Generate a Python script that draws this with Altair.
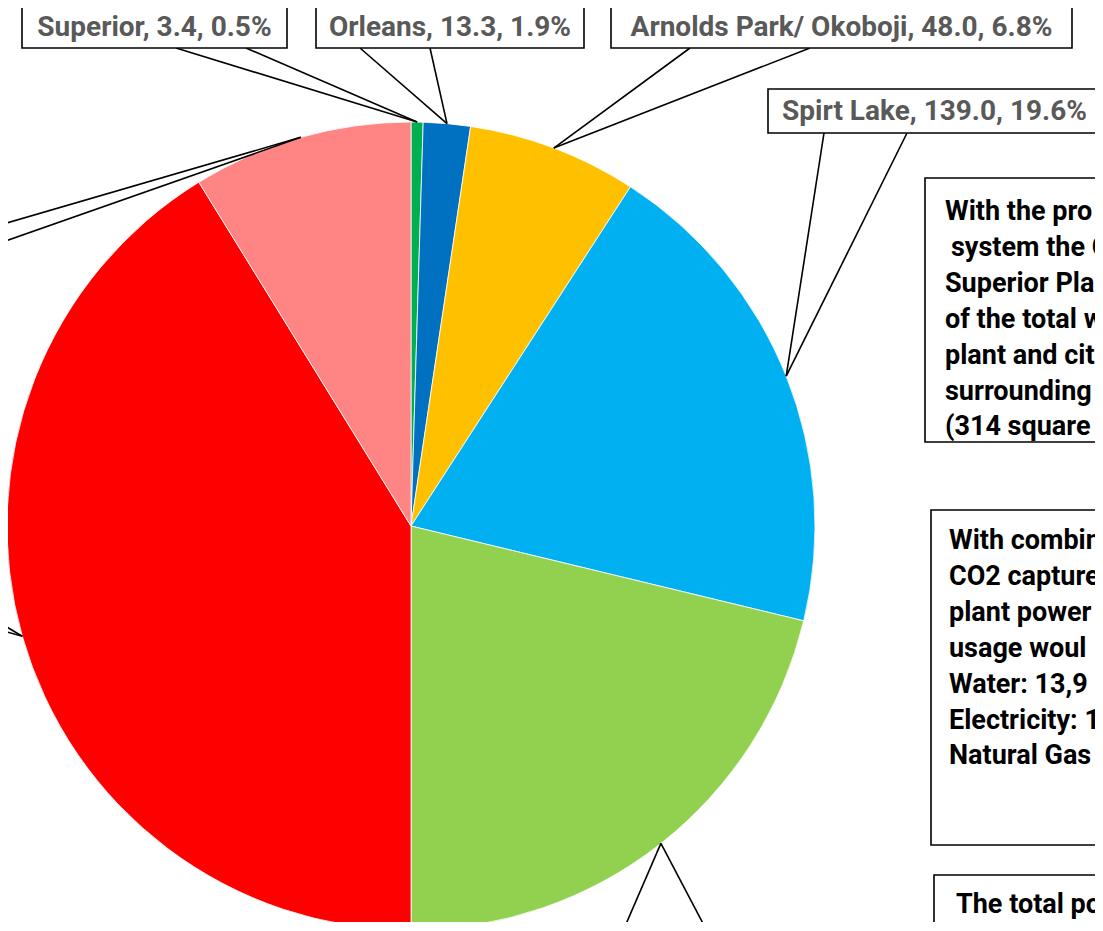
import math
import altair as alt
import pandas as pd

# ---------------- data ----------------
names = ["Superior", "Orleans", "Arnolds Park/ Okoboji", "Spirt Lake",
         "Slice 5", "Slice 6", "Slice 7"]
values = [3.4, 13.3, 48.0, 139.0, 150.3, 291.7, 62.3]
colors = ["#00B050", "#0070C0", "#FFC000", "#00B0F0", "#92D050", "#FF0000", "#FF8585"]
labelled = [True, True, True, True, False, False, False]

box1_lines = ["With the pro", " system the C", "Superior Pla", "of the total w",
              "plant and cit", "surrounding", "(314 square"]
box2_lines = ["With combin", "CO2 capture", "plant power", "usage  woul",
              "Water:  13,9", "Electricity: 1", "Natural Gas"]
box3_lines = ["The total po"]

# ---------------- layout (image pixel space) ----------------
M = 8                      # page margin
W, H = 1087, 914           # chart size (fits the window without scrolling)
CX, CY, R = 411, 526, 404  # pie centre / radius

# label boxes: x1, x2, y1, y2, wedge base x-a, x-b
label_boxes = {
    "Superior": (22, 287, 6, 48, 176, 246),
    "Orleans": (316, 584, 6, 48, 360, 430),
    "Arnolds Park/ Okoboji": (611, 1072, 6, 48, 690, 810),
    "Spirt Lake": (768, 1101, 89, 133, 824, 907),
}
# callouts whose boxes lie outside the picture: (xa, ya, xb, yb)
offscreen = {
    "Slice 5": (623, 931, 707, 931),
    "Slice 6": (0, 623, 0, 630),
    "Slice 7": (0, 225, 0, 243),
}

total = sum(values)
df = pd.DataFrame({"name": names, "value": values, "idx": range(len(names))})

# anchors at the middle of each slice on the rim
cum = 0.0
anchors = []
for n, v in zip(names, values):
    mid = (cum + v / 2) / total * 2 * math.pi
    anchors.append((CX + R * math.sin(mid), CY - R * math.cos(mid)))
    cum += v

rules = []
boxes = []
labels = []
for i, n in enumerate(names):
    ax, ay = anchors[i]
    if labelled[i]:
        x1, x2, y1, y2, xa, xb = label_boxes[n]
        rules.append({"x": xa, "y": y2, "x2": ax, "y2": ay})
        rules.append({"x": xb, "y": y2, "x2": ax, "y2": ay})
        boxes.append({"x": x1, "x2": x2, "y": y1, "y2": y2})
        pct = values[i] / total * 100
        labels.append({"x": (x1 + x2) / 2, "y": (y1 + y2) / 2 + 1,
                       "t": f"{n}, {values[i]:.1f}, {pct:.1f}%"})
    else:
        xa, ya, xb, yb = offscreen[n]
        rules.append({"x": xa, "y": ya, "x2": ax, "y2": ay})
        rules.append({"x": xb, "y": yb, "x2": ax, "y2": ay})

# right-hand text boxes
tboxes = [
    {"x": 925, "x2": 1300, "y": 178, "y2": 442},
    {"x": 931, "x2": 1300, "y": 510, "y2": 845},
    {"x": 934, "x2": 1300, "y": 875, "y2": 1000},
]
body = []
for lines, x0, y0 in [(box1_lines, 945, 212), (box2_lines, 949, 541), (box3_lines, 956, 905)]:
    for j, ln in enumerate(lines):
        xs = x0 + (6 if ln.startswith(" ") else 0)
        body.append({"x": xs, "y": y0 + j * 35.9, "t": ln.strip()})

sx = alt.Scale(domain=[M, M + W], range=[0, W], zero=False, nice=False)
sy = alt.Scale(domain=[M, M + H], range=[0, H], zero=False, nice=False)

pie = alt.Chart(df).mark_arc(radius=R, stroke="white", strokeWidth=0.8).encode(
    theta=alt.Theta("value:Q", stack=True),
    order=alt.Order("idx:Q"),
    color=alt.Color("name:N", scale=alt.Scale(domain=names, range=colors), legend=None),
    x=alt.value(CX - M),
    y=alt.value(CY - M),
)

rule_layer = alt.Chart(pd.DataFrame(rules)).mark_rule(color="black", strokeWidth=1.6).encode(
    x=alt.X("x:Q", scale=sx, axis=None),
    y=alt.Y("y:Q", scale=sy, axis=None),
    x2="x2:Q", y2="y2:Q",
)

box_layer = alt.Chart(pd.DataFrame(boxes + tboxes)).mark_rect(
    fill="white", stroke="black", strokeWidth=1.6
).encode(
    x=alt.X("x:Q", scale=sx, axis=None), x2="x2:Q",
    y=alt.Y("y:Q", scale=sy, axis=None), y2="y2:Q",
)

label_layer = alt.Chart(pd.DataFrame(labels)).mark_text(
    font="Roboto", fontWeight="bold", fontSize=28, color="#595959",
    align="center", baseline="middle",
).encode(
    x=alt.X("x:Q", scale=sx, axis=None), y=alt.Y("y:Q", scale=sy, axis=None), text="t:N"
)

body_layer = alt.Chart(pd.DataFrame(body)).mark_text(
    font="Roboto", fontWeight="bold", fontSize=27, color="black",
    align="left", baseline="middle",
).encode(
    x=alt.X("x:Q", scale=sx, axis=None), y=alt.Y("y:Q", scale=sy, axis=None), text="t:N"
)

chart = alt.layer(pie, rule_layer, box_layer, label_layer, body_layer).resolve_scale(
    x="shared", y="shared"
).properties(
    width=W, height=H, padding=0, autosize="none"
).configure_view(stroke=None)

chart.save("out.html", embed_options={"renderer": "svg", "actions": False})
